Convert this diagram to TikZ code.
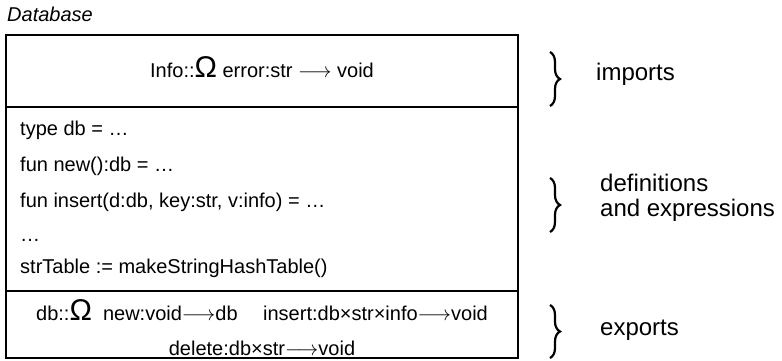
\documentclass[tikz,border=0pt]{standalone}
\usepackage{fontspec}
\setmainfont{Liberation Sans}
\usepackage{tikz}
\usetikzlibrary{decorations.pathreplacing}

\begin{document}
\begin{tikzpicture}[x=1pt, y=-1pt,
  section/.style={draw, line width=1.2pt, rectangle, minimum width=512,
                  inner sep=0pt},
  code/.style={font=\fontsize{20}{35}\selectfont, inner sep=0pt,
               text height=15, text depth=4},
  title/.style={font=\fontsize{20}{24}\selectfont\itshape, inner sep=0pt},
  label/.style={font=\fontsize{24}{25}\selectfont, align=left, inner sep=0pt},
  brace/.style={decorate, decoration={brace, amplitude=10pt}, line width=2.2pt},
]
\useasboundingbox (0,0) rectangle (782,360);
\newcommand{\bigOm}{{\fontsize{30}{30}\selectfont Ω}}

%% Module frame with its three parts
\node[title, anchor=west] (name) at (7,14) {Database};
\node[section, minimum height=72]  (imp)  at (262,71)    {};
\node[section, minimum height=184] (defs) at (262,199)   {};
\node[section, minimum height=67]  (exp)  at (262,324.5) {};

%% Imports
\node[code] (imptext) at (262,72)
  {Info::\bigOm{} error:str $\longrightarrow$ void};

%% Definitions and expressions
\node[code, anchor=west] (ltype) at (20,130) {type db = \dots};
\node[code, anchor=west] (lnew)  at (20,166) {fun new():db = \dots};
\node[code, anchor=west] (lins)  at (20,202) {fun insert(d:db, key:str, v:info) = \dots};
\node[code, anchor=west] (ldots) at (20,236) {\dots};
\node[code, anchor=west] (ltab)  at (20,268) {strTable := makeStringHashTable()};

%% Exports
\node[code, align=center, text height=, text depth=] (exptext) at (262,328)
  {db::\bigOm\ \ new:void$\longrightarrow$db\quad\ insert:db×str×info$\longrightarrow$void\\
   delete:db×str$\longrightarrow$void};

%% Braces and their labels on the right
\coordinate (itop) at (550,52);  \coordinate (ibot) at (550,106);
\coordinate (dtop) at (550,178); \coordinate (dbot) at (550,232);
\coordinate (etop) at (550,305); \coordinate (ebot) at (550,358);
\draw[brace] (itop) -- (ibot);
\draw[brace] (dtop) -- (dbot);
\draw[brace] (etop) -- (ebot);

\node[label, anchor=west] (limp) at (596,74) {imports};
\node[label, anchor=west] (ldef) at (600,198) {definitions\\and expressions};
\node[label, anchor=west] (lexp) at (600,330) {exports};
\end{tikzpicture}
\end{document}
